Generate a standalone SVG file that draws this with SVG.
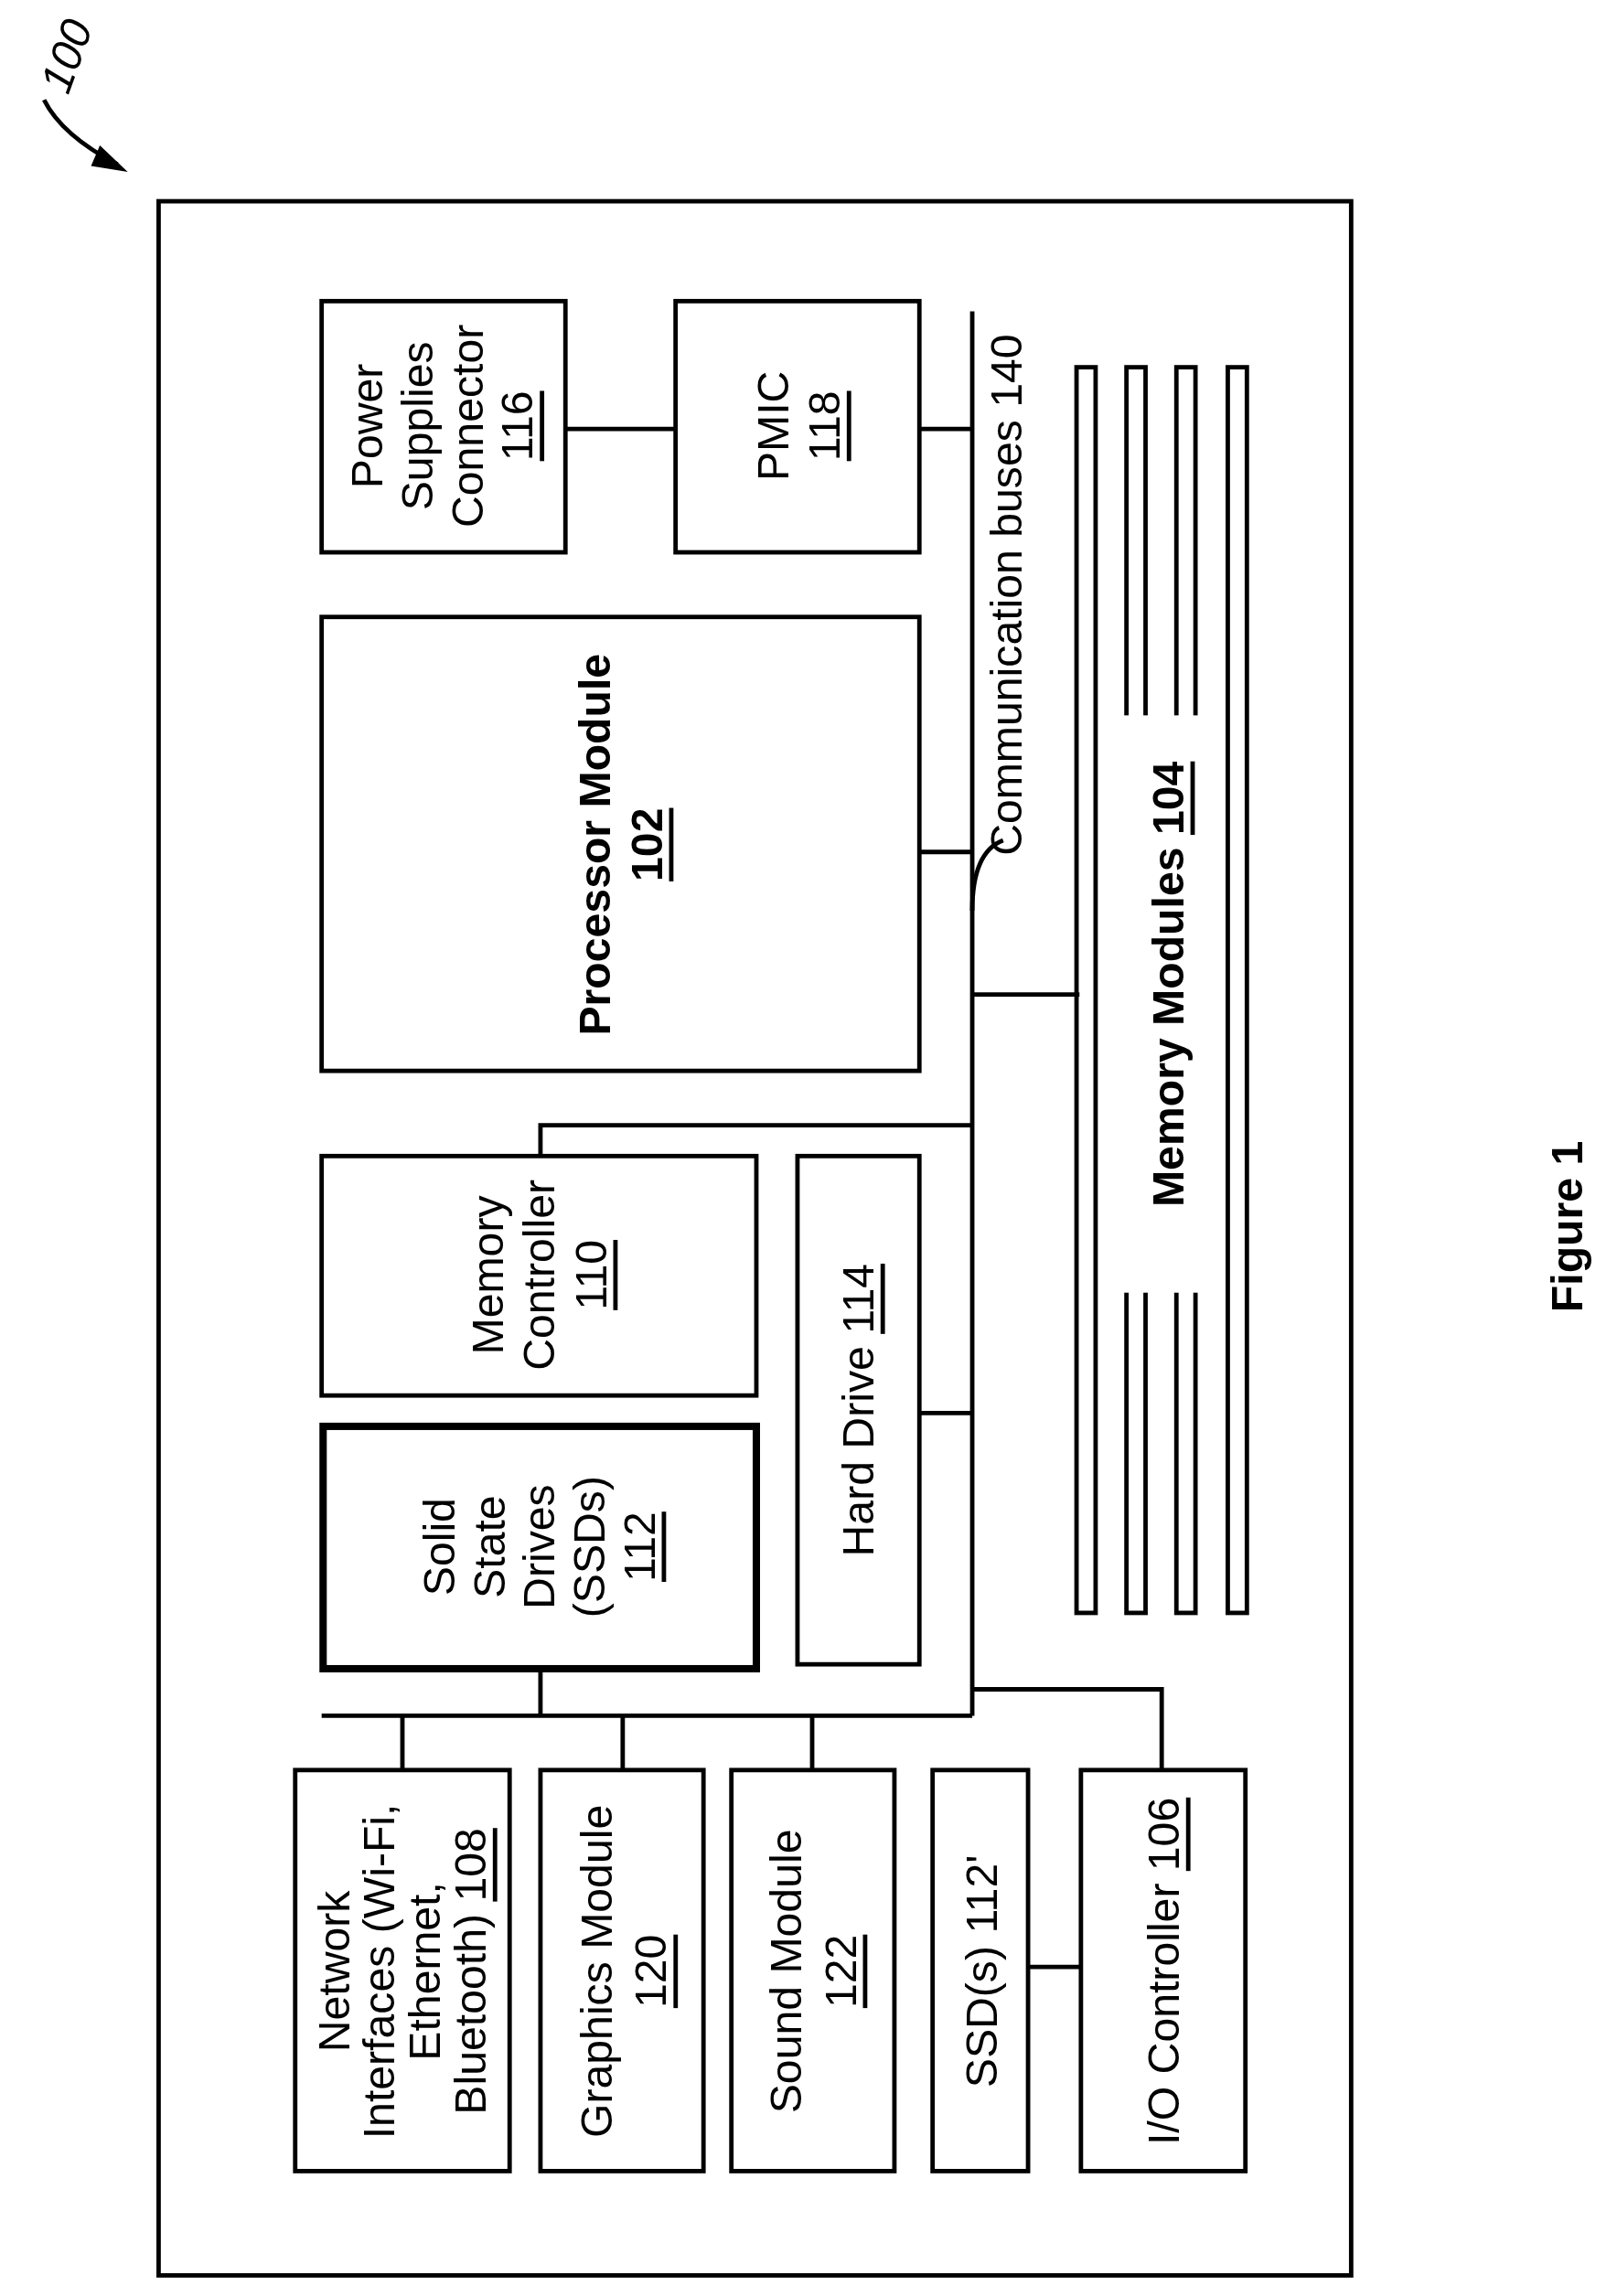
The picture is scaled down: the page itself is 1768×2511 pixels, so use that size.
<svg xmlns="http://www.w3.org/2000/svg" width="1768" height="2511" viewBox="0 0 1768 2511">
<style>
.b{fill:none;stroke:#000;stroke-width:3}
.l{fill:none;stroke:#000;stroke-width:3}
text{font-family:"Liberation Sans",Arial,sans-serif;font-size:30px;fill:#000;text-anchor:middle;dominant-baseline:central}
.u{text-decoration:underline}
.bd{font-weight:bold}
</style>
<rect width="1768" height="2511" fill="#fff"/>
<g transform="scale(1.6058,1.6065)">
<g id="ref100">
<text transform="translate(45,38) rotate(-70)" font-style="italic" font-size="26">100</text>
<path d="M30,68 Q42,92 80,112" class="l"/>
<path d="M68,99 L87,117 L62,113 z"/>
</g>
<rect id="frame" x="108" y="137" width="812" height="1412" class="b"/>
<g id="connectors">
<path class="l" d="M662,212V1168 M385,292H460 M626,292H662 M626,580H662 M662,677H735 M368,787V766H662 M626,962H662 M219,1168H662 M368,1137V1168 M274,1168V1205 M424,1168V1205 M553,1168V1205 M662,1150H791V1205 M700,1339H736"/>
<path class="l" d="M662,620 Q662,580 683,572"/>
</g>
<text transform="translate(685,405) rotate(-90)" font-size="28">Communication buses 140</text>
<g id="n116"><rect x="219" y="205" width="166" height="171" class="b"/>
<text transform="translate(302,290) rotate(-90)"><tspan x="0" y="-52">Power</tspan><tspan x="0" y="-18">Supplies</tspan><tspan x="0" y="16">Connector</tspan><tspan x="0" y="50" class="u">116</tspan></text></g>
<g id="n118"><rect x="460" y="205" width="166" height="171" class="b"/>
<text transform="translate(543,290) rotate(-90)"><tspan x="0" y="-17">PMIC</tspan><tspan x="0" y="18" class="u">118</tspan></text></g>
<g id="n102"><rect x="219" y="420" width="407" height="309" class="b"/>
<text transform="translate(422,575) rotate(-90)" class="bd"><tspan x="0" y="-17">Processor Module</tspan><tspan x="0" y="18" class="u">102</tspan></text></g>
<g id="n104">
<rect x="733" y="250" width="13" height="848" class="b"/>
<rect x="767" y="250" width="13" height="848" class="b"/>
<rect x="801" y="250" width="13" height="848" class="b"/>
<rect x="836" y="250" width="13" height="848" class="b"/>
<rect x="765" y="487" width="52" height="393" fill="#fff"/>
<text transform="translate(795,670) rotate(-90)" class="bd">Memory Modules <tspan class="u">104</tspan></text></g>
<g id="n110"><rect x="219" y="787" width="296" height="163" class="b"/>
<text transform="translate(367,868) rotate(-90)"><tspan x="0" y="-35">Memory</tspan><tspan x="0" y="0">Controller</tspan><tspan x="0" y="35" class="u">110</tspan></text></g>
<g id="n114"><rect x="543" y="787" width="83" height="346" class="b"/>
<text transform="translate(584,960) rotate(-90)">Hard Drive <tspan class="u">114</tspan></text></g>
<g id="n112"><rect x="220" y="971" width="295" height="165" fill="none" stroke="#000" stroke-width="5"/>
<text transform="translate(367,1053) rotate(-90)"><tspan x="0" y="-68">Solid</tspan><tspan x="0" y="-34">State</tspan><tspan x="0" y="0">Drives</tspan><tspan x="0" y="34">(SSDs)</tspan><tspan x="0" y="68" class="u">112</tspan></text></g>
<g id="n108"><rect x="201" y="1205" width="146" height="273" class="b"/>
<text transform="translate(274,1342) rotate(-90)"><tspan x="0" y="-47">Network</tspan><tspan x="0" y="-16">Interfaces (Wi-Fi,</tspan><tspan x="0" y="15">Ethernet,</tspan><tspan x="0" y="46">Bluetooth) <tspan class="u">108</tspan></tspan></text></g>
<g id="n120"><rect x="368" y="1205" width="111" height="273" class="b"/>
<text transform="translate(424,1342) rotate(-90)"><tspan x="0" y="-18">Graphics Module</tspan><tspan x="0" y="19" class="u">120</tspan></text></g>
<g id="n122"><rect x="498" y="1205" width="111" height="273" class="b"/>
<text transform="translate(553,1342) rotate(-90)"><tspan x="0" y="-18">Sound Module</tspan><tspan x="0" y="19" class="u">122</tspan></text></g>
<g id="n112p"><rect x="635" y="1205" width="65" height="273" class="b"/>
<text transform="translate(668,1342) rotate(-90)">SSD(s) 112'</text></g>
<g id="n106"><rect x="736" y="1205" width="112" height="273" class="b"/>
<text transform="translate(792,1342) rotate(-90)">I/O Controller <tspan class="u">106</tspan></text></g>
<text transform="translate(1067,835) rotate(-90)" class="bd" font-size="46">Figure 1</text>
</g>
</svg>
